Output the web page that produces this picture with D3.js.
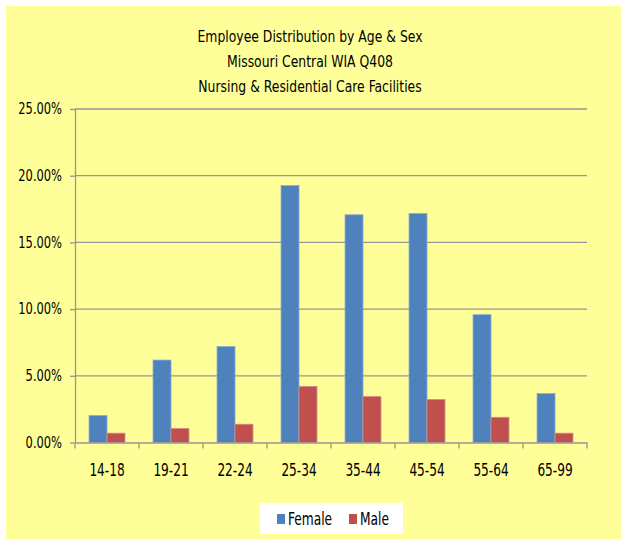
<!DOCTYPE html>
<html>
<head>
<meta charset="utf-8">
<script src="https://cdn.jsdelivr.net/npm/d3@7"></script>
<style>
  body { margin: 0; background: #fff; }
  text { font-family: "DejaVu Sans Condensed", "DejaVu Sans", sans-serif; fill: #000; }
</style>
</head>
<body>
<svg width="621" height="539"></svg>
<script>
// data
var categories = ["14-18", "19-21", "22-24", "25-34", "35-44", "45-54", "55-64", "65-99"];
var female = [2.02, 6.18, 7.19, 19.26, 17.07, 17.16, 9.58, 3.67];
var male = [0.70, 1.05, 1.37, 4.21, 3.44, 3.22, 1.89, 0.70];
var seriesNames = ["Female", "Male"];
var colors = ["#4F81BD", "#C0504D"];
var yTicks = [0, 5, 10, 15, 20, 25];
var titleLines = ["Employee Distribution by Age & Sex", "Missouri Central WIA Q408", "Nursing & Residential Care Facilities"];

var svg = d3.select("svg");

// yellow chart area
svg.append("rect")
    .attr("x", 6).attr("y", 6)
    .attr("width", 615).attr("height", 533)
    .attr("fill", "#FFFF99");

var plotLeft = 75, plotRight = 587, plotTop = 109, plotBottom = 442.5;

var x0 = d3.scaleBand()
    .domain(categories)
    .range([plotLeft, plotRight])
    .paddingInner(0)
    .paddingOuter(0);

var x1 = d3.scaleBand()
    .domain(seriesNames)
    .range([0, x0.bandwidth()])
    .paddingInner(0)
    .paddingOuter(0.78); // gap like excel's 150%

var y = d3.scaleLinear()
    .domain([0, 25])
    .range([plotBottom, plotTop]);

// gridlines
svg.append("g")
    .selectAll("line")
    .data(yTicks.slice(1))
    .enter()
    .append("line")
    .attr("x1", plotLeft).attr("x2", plotRight)
    .attr("y1", function(d) { return y(d); })
    .attr("y2", function(d) { return y(d); })
    .attr("stroke", "#969696")
    .attr("stroke-width", 1.3);

// bars
var rows = categories.map(function(c, i) {
    return { cat: c, values: [female[i], male[i]] };
});

var groups = svg.append("g")
    .selectAll("g")
    .data(rows)
    .enter()
    .append("g")
    .attr("transform", function(d) { return "translate(" + x0(d.cat) + ",0)"; });

groups.selectAll("rect")
    .data(function(d) {
        return d.values.map(function(v, j) { return { name: seriesNames[j], value: v, j: j }; });
    })
    .enter()
    .append("rect")
    .attr("x", function(d) { return x1(d.name); })
    .attr("width", x1.bandwidth())
    .attr("y", function(d) { return y(d.value); })
    .attr("height", function(d) { return plotBottom - y(d.value); })
    .attr("fill", function(d) { return colors[d.j]; })
    .attr("stroke", function(d) { return d.j === 0 ? "#8AAAD2" : "#D88A88"; })
    .attr("stroke-width", 0.8);

// y axis (labels squeezed a bit sideways, the original font is narrow)
var ySx = 0.85;
var yAxis = d3.axisLeft(y)
    .tickValues(yTicks)
    .tickSize(5)
    .tickSizeOuter(0)
    .tickFormat(function(d) { return d.toFixed(2) + "%"; });

var gy = svg.append("g")
    .attr("transform", "translate(" + plotLeft + ",0)")
    .call(yAxis);
gy.select(".domain").attr("stroke", "#969696").attr("stroke-width", 1.3);
gy.selectAll(".tick line").attr("stroke", "#969696").attr("stroke-width", 1.3);
gy.selectAll(".tick text")
    .attr("x", -13 / ySx)
    .attr("transform", "scale(" + ySx + ",1)")
    .style("font-size", "15px")
    .attr("fill", "#000");

// x axis
var xSx = 0.75;
var xAxis = d3.axisBottom(x0).tickSize(0).tickSizeOuter(0);
var gx = svg.append("g")
    .attr("transform", "translate(0," + plotBottom + ")")
    .call(xAxis);
gx.select(".domain").attr("stroke", "#969696").attr("stroke-width", 1.3);
gx.selectAll(".tick text")
    .attr("y", 21)
    .attr("transform", "scale(" + xSx + ",1)")
    .style("font-size", "18px")
    .attr("fill", "#000");

// category boundary ticks
gx.append("g")
    .selectAll("line")
    .data(categories.concat(["end"]))
    .enter()
    .append("line")
    .attr("x1", function(d, i) { return plotLeft + i * x0.step(); })
    .attr("x2", function(d, i) { return plotLeft + i * x0.step(); })
    .attr("y1", 0).attr("y2", 6)
    .attr("stroke", "#969696")
    .attr("stroke-width", 1.3);

// title
svg.append("g")
    .selectAll("text")
    .data(titleLines)
    .enter()
    .append("text")
    .attr("transform", function(d, i) { return "translate(310," + (42 + i * 25) + ") scale(0.92,1)"; })
    .attr("text-anchor", "middle")
    .style("font-size", "15px")
    .text(function(d) { return d; });

// legend
var legend = svg.append("g");
legend.append("rect")
    .attr("x", 260).attr("y", 503)
    .attr("width", 143).attr("height", 31)
    .attr("fill", "#fff");

var legendX = [277, 349];
var items = legend.selectAll("g")
    .data(seriesNames)
    .enter()
    .append("g")
    .attr("transform", function(d, i) { return "translate(" + legendX[i] + ",514)"; });
items.append("rect")
    .attr("width", 8).attr("height", 10)
    .attr("fill", function(d, i) { return colors[i]; });
items.append("text")
    .attr("transform", "translate(11,11) scale(0.8,1)")
    .style("font-size", "17px")
    .text(function(d) { return d; });
</script>
</body>
</html>
